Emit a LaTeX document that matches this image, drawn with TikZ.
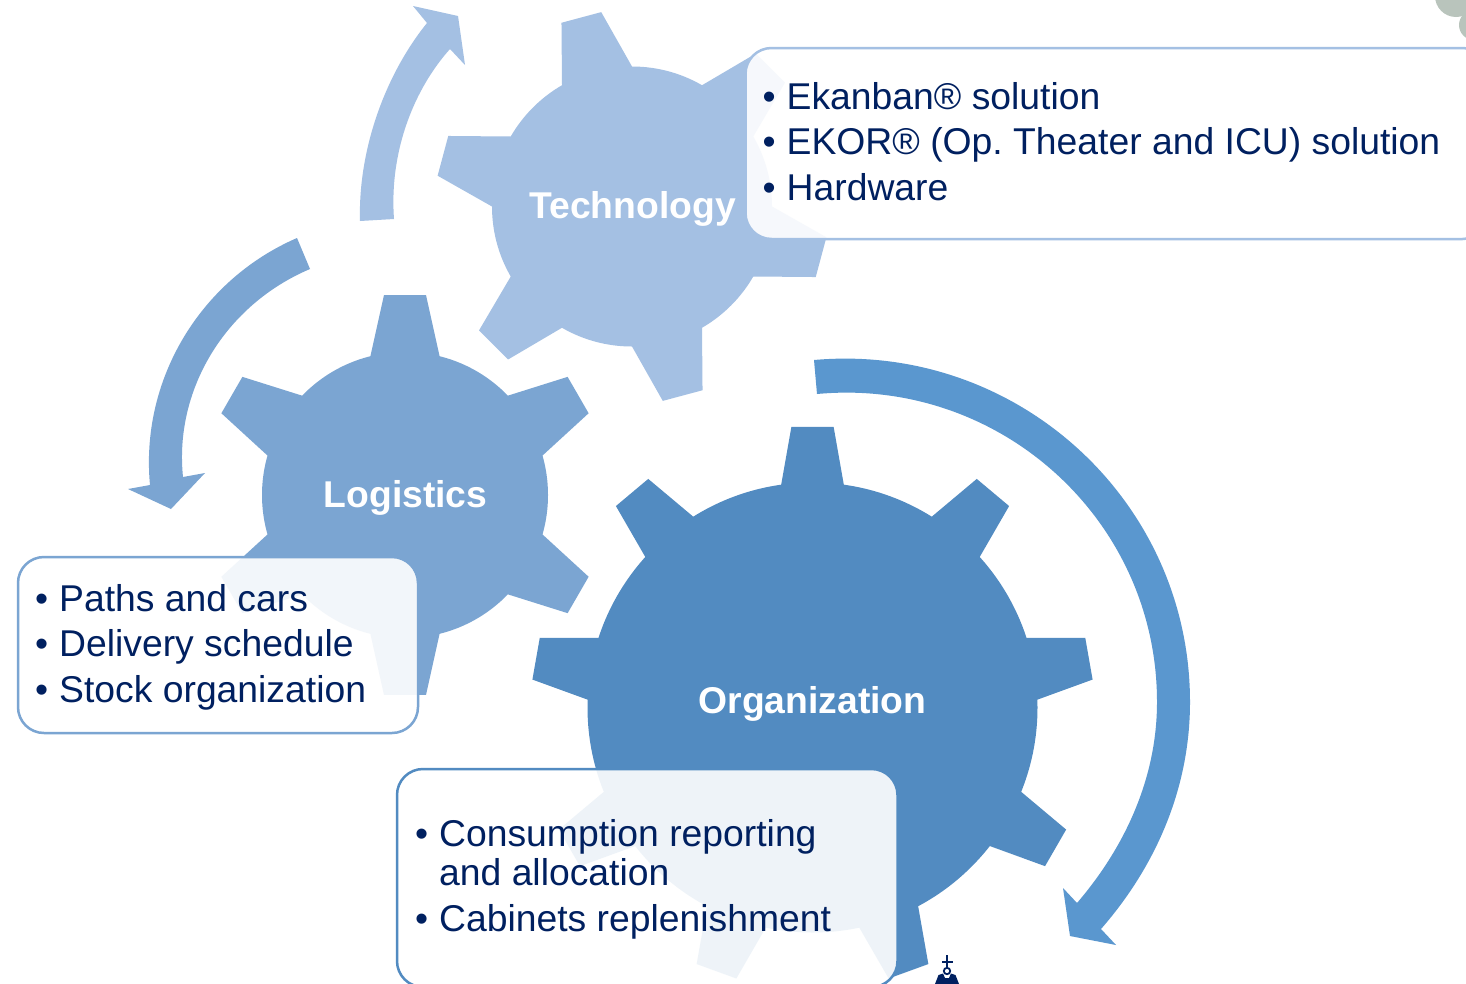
\documentclass[tikz,border=0pt]{standalone}
\usepackage{fontspec}
\setmainfont{Liberation Sans}
\frenchspacing
\definecolor{navy}{HTML}{002060}
\definecolor{techc}{HTML}{A4C0E3}
\definecolor{logc}{HTML}{7BA5D2}
\definecolor{orgc}{HTML}{528BC1}
\definecolor{arrc}{HTML}{5A97CF}
\definecolor{dotc}{HTML}{B9C4BC}
\newcommand{\gearshape}[9]{%
  \begin{scope}[shift={(#1,#2)}]
    \fill[#9] (0,0) circle[radius=#3pt];
    \foreach \k in {1,...,#5}{
      \pgfmathsetmacro{\ca}{#6+(\k-1)*360/#5}
      \fill[#9] (0,0) -- (\ca-#7:#3) -- (\ca-#8:#4) -- (\ca+#8:#4) -- (\ca+#7:#3) -- cycle;
    }
  \end{scope}}
\newcommand{\bul}{\makebox[26.5pt][l]{\hspace*{2.5pt}•}}
\tikzset{
  gearlabel/.style={font=\fontsize{37.3}{45}\selectfont\bfseries, text=white, inner sep=0pt, anchor=base},
  listtext/.style={font=\fontsize{37.3}{45.1}\selectfont, text=navy, inner sep=0pt, anchor=base west, align=left},
  listbox/.style={draw=#1, line width=2.5pt, fill=white, fill opacity=0.9, draw opacity=1, rounded corners=26pt, anchor=north west, inner sep=0pt, outer sep=0pt}
}
\begin{document}
\begin{tikzpicture}[x=1pt,y=-1pt]
\useasboundingbox (0,0) rectangle (1466,983);
\clip (0,0) rectangle (1466,983);
\fill[white] (0,0) rectangle (1466,983);

% decorations
\fill[dotc] (1456,-4) circle[radius=21pt];
\fill[dotc] (1474,25) circle[radius=15pt];

% arrows
\fill[techc] (360,221) .. controls (358,150) and (385,75) .. (427,23)
  -- (413,6) -- (458,16) -- (465,65) -- (450,49)
  .. controls (415,88) and (389,150) .. (394,219) -- cycle;
\fill[logc] (297,238) .. controls (200,280) and (140,380) .. (150,485)
  -- (128,489) -- (171,509) -- (205,473) -- (183,477)
  .. controls (174,390) and (225,305) .. (310,269) -- cycle;
\fill[arrc] (814,360) .. controls (1016,342) and (1190,500) .. (1190,702)
  .. controls (1190,788) and (1156,866) .. (1101,929)
  -- (1116,945) -- (1070,936) -- (1063,888) -- (1077,903)
  .. controls (1125,847) and (1157,778) .. (1157,702)
  .. controls (1157,519) and (999,377) .. (817,394) -- cycle;

% gears
\gearshape{632}{206.5}{140}{196.8}{6}{-105}{15}{6}{techc}
\gearshape{405}{495}{143}{201}{6}{-90}{14}{6}{logc}
\gearshape{812.5}{707.5}{225}{281.5}{9}{-90}{8}{4.3}{orgc}

\node[gearlabel] (techlabel) at (632.5,218) {Technology};
\node[gearlabel] (loglabel) at (405.5,507) {Logistics};
\node[gearlabel] (orglabel) at (812.5,713) {Organization};

% boxes
\node[listbox=techc, minimum width=743pt, minimum height=191pt] (techbox) at (745.5,48) {};
\node[listbox=logc, minimum width=400pt, minimum height=176pt] (logbox) at (18,557) {};
\node[listbox=orgc, minimum width=500.5pt, minimum height=218pt] (orgbox) at (397,769) {};

\node[listtext] (techtext) at (760,200) {\bul Ekanban® solution\\\bul EKOR® (Op. Theater and ICU) solution\\\bul Hardware};
\node[listtext] (logtext) at (32.5,702) {\bul Paths and cars\\\bul Delivery schedule\\\bul Stock organization};
\node[listtext] (orgtext) at (412.5,931) {\bul Consumption reporting\\[-6pt]\hspace*{26.5pt}and allocation\\\bul Cabinets replenishment};

% small logo mark
\fill[navy] (945.8,955) rectangle (948.2,969);
\fill[navy] (941.5,960.5) rectangle (952.5,963);
\draw[navy, line width=1.8pt] (947,971) circle[radius=3.2pt];
\fill[navy] (935,984) -- (938.5,975) -- (943,973.5) -- (945,978) -- (949,978) -- (951,973.5) -- (955.5,975) -- (959,984) -- cycle;
\end{tikzpicture}
\end{document}
